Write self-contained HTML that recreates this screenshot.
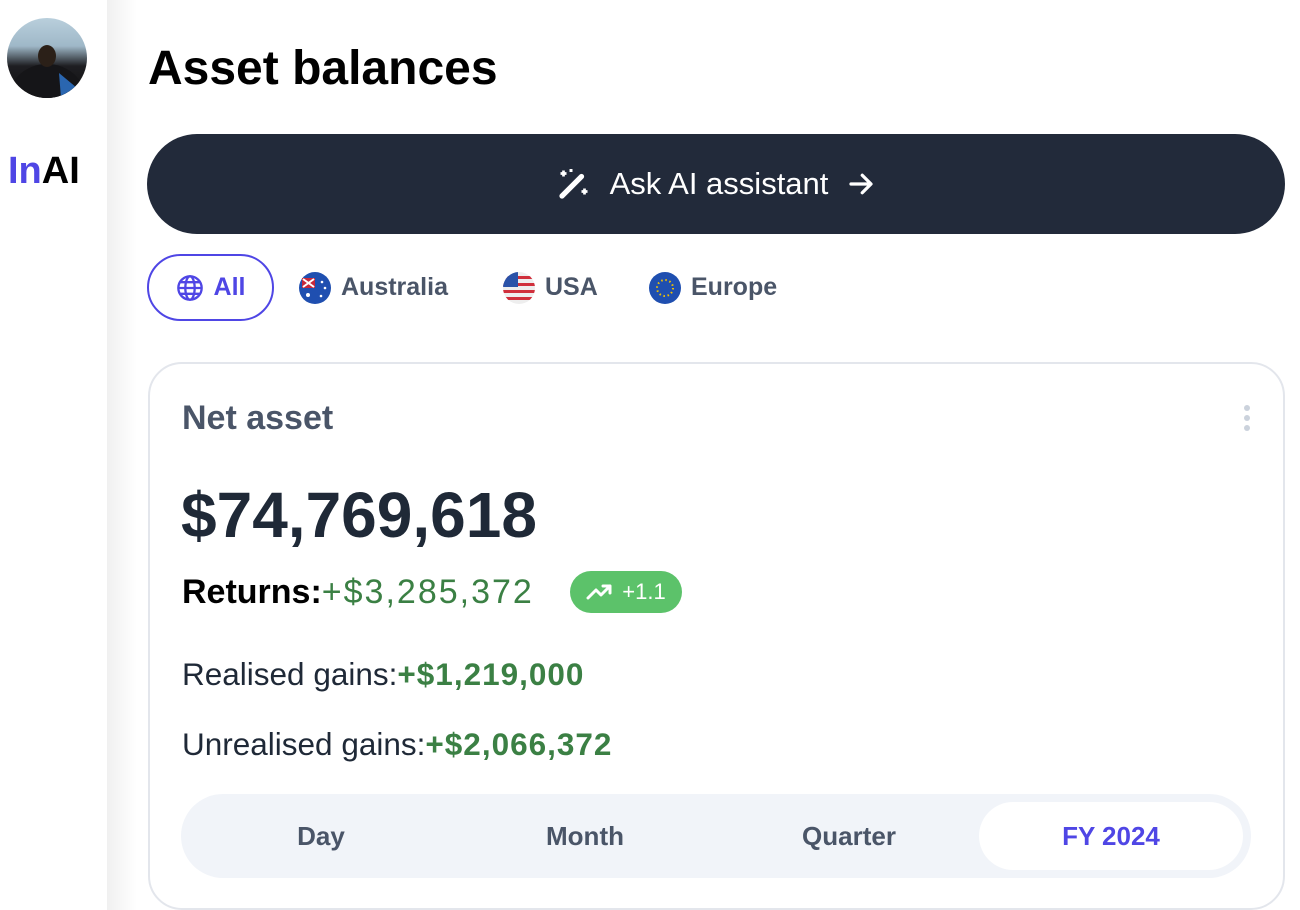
<!DOCTYPE html>
<html><head><meta charset="utf-8"><style>
*{box-sizing:border-box;margin:0;padding:0}
body{width:1300px;height:910px;overflow:hidden;background:#fff;font-family:"Liberation Sans",sans-serif;position:relative}
.abs{position:absolute}
.side{left:0;top:0;width:107px;height:910px;background:#fff}
.shadow{left:107px;top:0;width:30px;height:910px;background:linear-gradient(90deg,#f0f0f0,#fff)}
.avatar{left:7px;top:18px;width:80px;height:80px;border-radius:50%;background:linear-gradient(180deg,#b9cfdc 0%,#9fb8c8 35%,#1e1e22 60%,#111 100%);overflow:hidden}
.logo{left:8px;top:150px;font-size:38px;font-weight:bold;color:#000}
h1{position:absolute;left:148px;top:41px;font-size:48px;font-weight:bold;color:#000}
.ask{left:147px;top:134px;width:1138px;height:100px;border-radius:50px;background:#222a3a;color:#fff;font-size:31px;display:flex;align-items:center;justify-content:center;gap:18px}
.pill{top:254px;height:67px;display:flex;align-items:center;gap:10px;font-size:25px;font-weight:bold;color:#4a5568}
.card{left:148px;top:362px;width:1137px;height:548px;border:2px solid #e3e6ec;border-radius:34px}
.green{color:#3b8044}
.seg{left:181px;top:794px;width:1070px;height:84px;border-radius:42px;background:#f1f4f9}
.segi{top:794px;height:84px;display:flex;align-items:center;justify-content:center;font-size:26px;font-weight:bold;color:#4a5568}
</style></head><body>
<div class="abs side"></div>
<div class="abs shadow"></div>
<div class="abs avatar">
<svg width="80" height="80"><ellipse cx="40" cy="80" rx="38" ry="34" fill="#151518"/><path d="M52 55 L70 70 L66 80 L54 80Z" fill="#2a66b0"/><ellipse cx="40" cy="38" rx="9" ry="11" fill="#2b2018"/></svg>
</div>
<div class="abs logo"><span style="color:#4f46e5">In</span>AI</div>
<h1>Asset balances</h1>
<div class="abs ask">
<svg width="36" height="36" viewBox="0 0 24 24" fill="none" stroke="#fff" stroke-width="2"><path d="M4 20 L17 7" stroke-width="3.5" stroke-linecap="round"/><path d="M5 3v4M3 5h4M19 15v4M17 17h4M10 2v2M9 3h2" stroke-width="1.8"/></svg>
<span>Ask AI assistant</span>
<svg width="30" height="30" viewBox="0 0 24 24" fill="none" stroke="#fff" stroke-width="2.6" stroke-linecap="round" stroke-linejoin="round"><path d="M4 12h15M13 5l7 7-7 7"/></svg>
</div>
<div class="abs pill" style="left:147px;width:127px;border:2px solid #4f46e5;border-radius:34px;justify-content:center;color:#4f46e5">
<svg width="28" height="28" viewBox="0 0 24 24" fill="none" stroke="#4f46e5" stroke-width="2"><circle cx="12" cy="12" r="10"/><ellipse cx="12" cy="12" rx="4" ry="10"/><path d="M2 12h20M4 7h16M4 17h16"/></svg>All</div>
<div class="abs pill" style="left:299px">
<svg width="32" height="32" viewBox="0 0 32 32"><circle cx="16" cy="16" r="16" fill="#1f4fb0"/><path d="M3 6h13v10H3z" fill="#c8283a"/><path d="M4 7l11 8M15 7L4 15" stroke="#fff" stroke-width="2"/><circle cx="9" cy="23" r="2" fill="#fff"/><circle cx="23" cy="10" r="1.3" fill="#fff"/><circle cx="26" cy="16" r="1.3" fill="#fff"/><circle cx="22" cy="24" r="1.3" fill="#fff"/></svg>Australia</div>
<div class="abs pill" style="left:503px">
<svg width="32" height="32" viewBox="0 0 32 32"><defs><clipPath id="c"><circle cx="16" cy="16" r="16"/></clipPath></defs><g clip-path="url(#c)"><rect width="32" height="32" fill="#eee"/><rect y="4" width="32" height="3" fill="#d0303c"/><rect y="11" width="32" height="3" fill="#d0303c"/><rect y="18" width="32" height="3" fill="#d0303c"/><rect y="25" width="32" height="3" fill="#d0303c"/><rect width="15" height="15" fill="#2a52a8"/></g></svg>USA</div>
<div class="abs pill" style="left:649px">
<svg width="32" height="32" viewBox="0 0 32 32"><circle cx="16" cy="16" r="16" fill="#1f4fb0"/><circle cx="16" cy="16" r="8" fill="none" stroke="#f2c200" stroke-width="2" stroke-dasharray="1.5 2.7"/></svg>Europe</div>
<div class="abs card"></div>
<div class="abs" style="left:182px;top:399px;font-size:34px;font-weight:bold;color:#4a5568">Net asset</div>
<div class="abs" style="left:1241px;top:404px"><svg width="12" height="30"><circle cx="6" cy="4" r="3" fill="#cbd2dc"/><circle cx="6" cy="14" r="3" fill="#cbd2dc"/><circle cx="6" cy="24" r="3" fill="#cbd2dc"/></svg></div>
<div class="abs" style="left:181px;top:478px;font-size:64px;font-weight:bold;color:#1f2937">$74,769,618</div>
<div class="abs" style="left:182px;top:573px;font-size:34px;color:#000;white-space:nowrap"><b>Returns:</b><span class="green" style="letter-spacing:2px">+$3,285,372</span></div>
<div class="abs" style="left:570px;top:571px;width:112px;height:42px;border-radius:21px;background:#5cc26a;color:#fff;font-size:22px;display:flex;align-items:center;justify-content:center;gap:10px"><svg width="26" height="20" viewBox="0 0 26 20" fill="none" stroke="#fff" stroke-width="3" stroke-linecap="round" stroke-linejoin="round"><path d="M2 16l8-8 5 5 9-9M17 4h7v7"/></svg>+1.1</div>
<div class="abs" style="left:182px;top:656px;font-size:31.5px;color:#1f2937;white-space:nowrap">Realised gains:<b class="green" style="letter-spacing:1px">+$1,219,000</b></div>
<div class="abs" style="left:182px;top:726px;font-size:31.5px;color:#1f2937;white-space:nowrap">Unrealised gains:<b class="green" style="letter-spacing:1px">+$2,066,372</b></div>
<div class="abs seg"></div>
<div class="abs segi" style="left:189px;width:264px">Day</div>
<div class="abs segi" style="left:453px;width:264px">Month</div>
<div class="abs segi" style="left:717px;width:264px">Quarter</div>
<div class="abs segi" style="left:979px;top:802px;width:264px;height:68px;border-radius:34px;background:#fff;color:#4f46e5">FY 2024</div>
</body></html>
